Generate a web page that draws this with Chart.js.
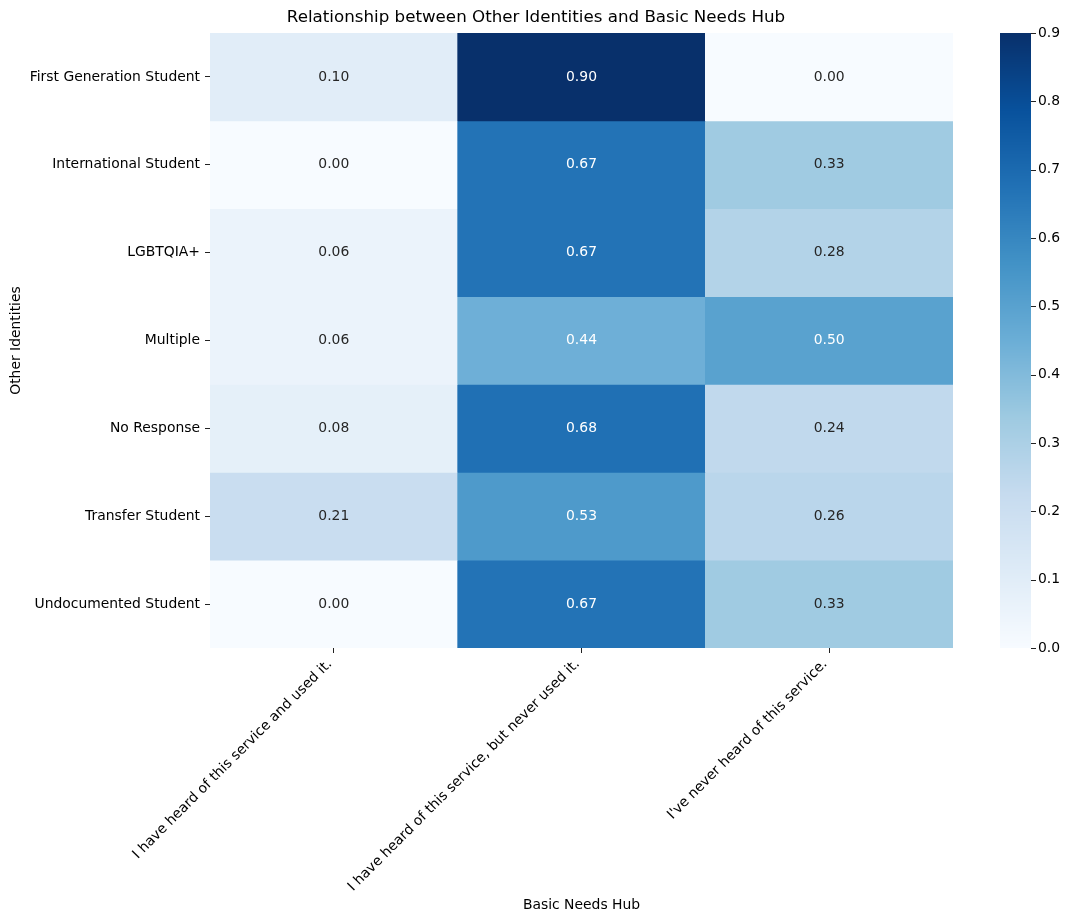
<!DOCTYPE html>
<html>
<head>
<meta charset="utf-8">
<script src="https://cdn.jsdelivr.net/npm/chart.js@4.4.1/dist/chart.umd.min.js"></script>
<style>
  html, body { margin: 0; background: #fff; }
  #wrap { width: 1072px; height: 924px; position: relative; }
</style>
</head>
<body>
<div id="wrap"><canvas id="chart"></canvas></div>
<script>
// rows (y) and columns (x) of the heatmap
const identities = [
  'First Generation Student',
  'International Student',
  'LGBTQIA+',
  'Multiple',
  'No Response',
  'Transfer Student',
  'Undocumented Student'
];
const hubAnswers = [
  'I have heard of this service and used it.',
  'I have heard of this service, but never used it.',
  "I've never heard of this service."
];
// one array per column, in row order
const heardAndUsed   = [0.10, 0.00, 0.056, 0.056, 0.08, 0.21, 0.00];
const heardNeverUsed = [0.90, 0.667, 0.667, 0.444, 0.68, 0.53, 0.667];
const neverHeard     = [0.00, 0.333, 0.278, 0.50, 0.24, 0.26, 0.333];
const colorbarTicks  = [0.0, 0.1, 0.2, 0.3, 0.4, 0.5, 0.6, 0.7, 0.8, 0.9];

const columns = [heardAndUsed, heardNeverUsed, neverHeard];
const vmin = 0, vmax = 0.9;

// matplotlib "Blues"
const bluesStops = ['#f7fbff','#deebf7','#c6dbef','#9ecae1','#6baed6','#4292c6','#2171b5','#08519c','#08306b']
  .map(h => [parseInt(h.slice(1,3),16), parseInt(h.slice(3,5),16), parseInt(h.slice(5,7),16)]);

function bluesRGB(t) {
  t = Math.max(0, Math.min(1, t));
  const p = t * (bluesStops.length - 1);
  const i = Math.min(Math.floor(p), bluesStops.length - 2);
  const f = p - i;
  const a = bluesStops[i], b = bluesStops[i+1];
  return [0,1,2].map(k => Math.round(a[k] + (b[k]-a[k]) * f));
}
function blues(v) {
  const c = bluesRGB((v - vmin) / (vmax - vmin));
  return 'rgb(' + c.join(',') + ')';
}
// same rule seaborn uses to pick annotation colour
function textColor(v) {
  const c = bluesRGB((v - vmin) / (vmax - vmin)).map(x => {
    x = x / 255;
    return x <= 0.03928 ? x / 12.92 : Math.pow((x + 0.055) / 1.055, 2.4);
  });
  const lum = 0.2126*c[0] + 0.7152*c[1] + 0.0722*c[2];
  return lum > 0.408 ? '#262626' : '#ffffff';
}

const FONT = 'DejaVu Sans';
const tickFont = { family: FONT, size: 13.9 };

const datasets = identities.map((name, r) => ({
  label: name,
  data: hubAnswers.map(() => [r, r + 1]),
  backgroundColor: columns.map(col => blues(col[r])),
  borderWidth: 0,
  grouped: false,
  barPercentage: 1,
  categoryPercentage: 1
}));

const cellLabels = {
  id: 'cellLabels',
  afterDatasetsDraw(chart) {
    const ctx = chart.ctx;
    ctx.save();
    ctx.font = '13.9px "' + FONT + '"';
    ctx.textAlign = 'center';
    ctx.textBaseline = 'middle';
    identities.forEach((name, r) => {
      const meta = chart.getDatasetMeta(r);
      meta.data.forEach((el, c) => {
        const v = columns[c][r];
        const p = el.getCenterPoint();
        ctx.fillStyle = textColor(v);
        ctx.fillText(v.toFixed(2), p.x, p.y);
      });
    });
    ctx.restore();
  }
};

const colorbar = {
  id: 'colorbar',
  afterDraw(chart) {
    const cb = chart.scales.cb;
    const ctx = chart.ctx;
    const x0 = cb.left + 47, w = 31;
    ctx.save();
    for (let y = Math.floor(cb.top); y < Math.ceil(cb.bottom); y++) {
      ctx.fillStyle = blues(cb.getValueForPixel(y + 0.5));
      ctx.fillRect(x0, y, w, 1);
    }
    ctx.strokeStyle = '#222';
    ctx.lineWidth = 1;
    cb.ticks.forEach(t => {
      const py = Math.round(cb.getPixelForValue(t.value)) + 0.5;
      ctx.beginPath();
      ctx.moveTo(x0 + w, py);
      ctx.lineTo(x0 + w + 5, py);
      ctx.stroke();
    });
    ctx.restore();
  }
};

new Chart(document.getElementById('chart'), {
  type: 'bar',
  data: { labels: hubAnswers, datasets },
  plugins: [cellLabels, colorbar],
  options: {
    responsive: true,
    maintainAspectRatio: false,
    animation: false,
    layout: { padding: 0 },
    plugins: {
      legend: { display: false },
      tooltip: { enabled: false },
      title: {
        display: true,
        text: 'Relationship between Other Identities and Basic Needs Hub',
        color: '#000',
        font: { family: FONT, size: 16.7, weight: 'normal' },
        padding: { top: 8, bottom: 5 }
      }
    },
    scales: {
      x: {
        type: 'category',
        offset: true,
        ticks: { color: '#000', font: tickFont, maxRotation: 45, minRotation: 45, autoSkip: false, padding: 3, labelOffset: -4 },
        grid: { offset: false, drawOnChartArea: false, drawTicks: true, tickLength: 5, color: '#222' },
        border: { display: false },
        title: { display: true, text: 'Basic Needs Hub', color: '#000', font: tickFont, padding: { top: 0, bottom: 10 } },
        afterFit(s) { s.height = 276; }
      },
      y: {
        type: 'linear',
        reverse: true,
        min: 0,
        max: identities.length,
        afterBuildTicks(s) { s.ticks = identities.map((_, i) => ({ value: i + 0.5 })); },
        ticks: { color: '#000', font: tickFont, padding: 5, autoSkip: false,
                 callback: v => identities[Math.floor(v)] },
        grid: { drawOnChartArea: false, drawTicks: true, tickLength: 5, color: '#222' },
        border: { display: false },
        title: { display: true, text: 'Other Identities', color: '#000', font: tickFont, padding: { top: 8, bottom: 0 } },
        afterFit(s) { s.width = 210; }
      },
      cb: {
        type: 'linear',
        position: 'right',
        display: true,
        min: vmin,
        max: vmax,
        afterBuildTicks(s) { s.ticks = colorbarTicks.map(v => ({ value: v })); },
        ticks: { color: '#000', font: tickFont, padding: 3, callback: v => v.toFixed(1) },
        // invisible tick marks just push the labels past the colour bar
        grid: { display: true, drawOnChartArea: false, drawTicks: true, tickLength: 82, color: 'rgba(0,0,0,0)' },
        border: { display: false },
        afterFit(s) { s.width = 119; s.paddingTop = 0; s.paddingBottom = 0; }
      }
    }
  }
});
</script>
</body>
</html>
